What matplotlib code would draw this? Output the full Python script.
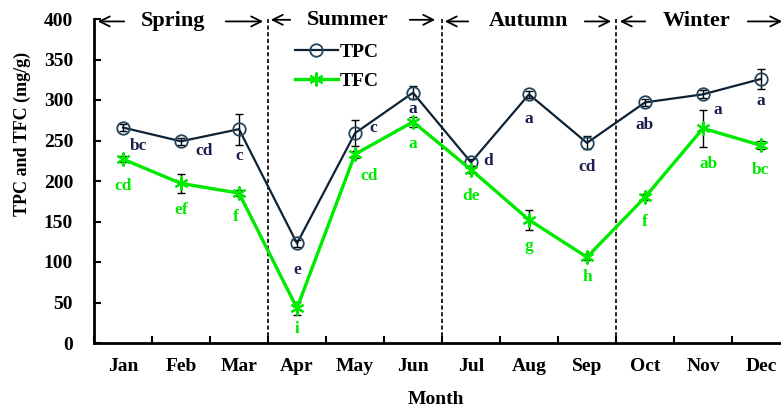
import matplotlib.pyplot as plt
import numpy as np

months = ["Jan", "Feb", "Mar", "Apr", "May", "Jun", "Jul", "Aug", "Sep", "Oct", "Nov", "Dec"]
tpc = [266, 249, 264, 123, 259, 309, 223, 307, 247, 297, 307, 326]
tpc_err = [4, 4, 19, 4, 16, 8, 4, 4, 8, 4, 5, 12]
tfc = [227, 197, 185, 43, 233, 273, 214, 152, 106, 180, 265, 244]
tfc_err = [4, 12, 4, 8, 4, 6, 4, 12, 4, 4, 23, 5]
tpc_letters = ["bc", "cd", "c", "e", "c", "a", "d", "a", "cd", "ab", "a", "a"]
tfc_letters = ["cd", "ef", "f", "i", "cd", "a", "de", "g", "h", "f", "ab", "bc"]
seasons = ["Spring", "Summer", "Autumn", "Winter"]

tpc_off = [(11, -13), (17, -7), (0, -19), (0, -19), (13, 4), (0, -12),
           (12, 1), (0, -18), (0, -17), (0, -16), (11, -11), (0, -16)]
tfc_off = [(0, -19), (0, -19), (-2, -17), (0, -15), (10, -16), (0, -16),
           (0, -19), (0, -19), (0, -14), (0, -18), (4, -26), (0, -18)]

NAVY = "#0e2233"
LETTER_NAVY = "#1b1f4f"
GREEN = "#00ea00"
FONT = "Liberation Serif"

plt.rcParams["font.family"] = FONT
plt.rcParams["font.weight"] = "bold"

fig = plt.figure(figsize=(7.81, 4.07), dpi=100)
ax = fig.add_axes([94 / 781, 1 - 343 / 407, 12 * 58 / 781, 324 / 407])

x = np.arange(len(months))
ax.errorbar(x, tpc, yerr=tpc_err, fmt="none", ecolor="black", elinewidth=1, capsize=3, zorder=2)
ax.errorbar(x, tfc, yerr=tfc_err, fmt="none", ecolor="black", elinewidth=1, capsize=3, zorder=2)
ax.plot(x, tpc, color=NAVY, lw=1.6, marker="o", ms=9, mfc="none", mec="#24465c", mew=1.3,
        label="TPC", zorder=3)
ax.plot(x, tfc, color=GREEN, lw=2.4, marker=(6, 2, 0), ms=10, mec=GREEN, mew=1.5,
        label="TFC", zorder=3)

for i in range(len(months)):
    ax.annotate(tpc_letters[i], (x[i], tpc[i]), xytext=tpc_off[i], textcoords="offset points",
                ha="center", va="center", color=LETTER_NAVY, fontsize=12.5, fontweight="bold")
    ax.annotate(tfc_letters[i], (x[i], tfc[i]), xytext=tfc_off[i], textcoords="offset points",
                ha="center", va="center", color=GREEN, fontsize=12.5, fontweight="bold")

# season dividers
for b in [2.5, 5.5, 8.5]:
    ax.plot([b, b], [0, 400], color="black", lw=1.2, ls=(0, (2.5, 1.5)), zorder=1)


def px(p):
    # horizontal pixel position in the reference -> data x
    return (p - 94) / 58 - 0.5


season_specs = [
    (173, 95, 127, 223, 266),
    (348, 268, 293, 407, 438),
    (528, 442, 471, 582, 614),
    (697, 617, 648, 745, 785),
]
for name, (cx, l_head, l_tail, r_tail, r_head) in zip(seasons, season_specs):
    yv = 397 if name != "Summer" else 399
    ax.text(px(cx), yv, name, ha="center", va="center", fontsize=16, fontweight="bold", clip_on=False)
    ax.annotate("", xy=(px(l_head), yv), xytext=(px(l_tail), yv),
                arrowprops=dict(arrowstyle="->", lw=1.3, color="black", mutation_scale=18),
                annotation_clip=False)
    ax.annotate("", xy=(px(r_head), yv), xytext=(px(r_tail), yv),
                arrowprops=dict(arrowstyle="->", lw=1.3, color="black", mutation_scale=18),
                annotation_clip=False)

ax.set_xlim(-0.5, 11.5)
ax.set_ylim(0, 400)
ax.set_yticks(np.arange(0, 401, 50))
ax.set_xticks(x)
ax.set_xticklabels(months)
ax.set_xticks(np.arange(-0.5, 11.6, 1), minor=True)
ax.tick_params(axis="x", which="major", length=0, pad=11, labelsize=14)
ax.tick_params(axis="x", which="minor", direction="in", length=5, width=1.5)
ax.tick_params(axis="y", direction="in", length=5, width=1.5, pad=15, labelsize=14)
for lab in ax.get_xticklabels() + ax.get_yticklabels():
    lab.set_fontweight("bold")

for s in ["top", "right"]:
    ax.spines[s].set_visible(False)
for s in ["left", "bottom"]:
    ax.spines[s].set_linewidth(2)

fig.text(436 / 781, 1 - 399 / 407, "Month", ha="center", va="center", fontsize=14, fontweight="bold")
fig.text(22 / 781, 1 - 134 / 407, "TPC and TFC (mg/g)", rotation=90, ha="center", va="center",
         fontsize=13, fontweight="bold")

leg = ax.legend(loc="upper left", bbox_to_anchor=(px(287), 380), bbox_transform=ax.transData,
                frameon=False, fontsize=14, handlelength=2.2, handletextpad=0.1, labelspacing=0.6,
                borderaxespad=0)
for t in leg.get_texts():
    t.set_fontweight("bold")

fig.savefig("out.png", dpi=100)
